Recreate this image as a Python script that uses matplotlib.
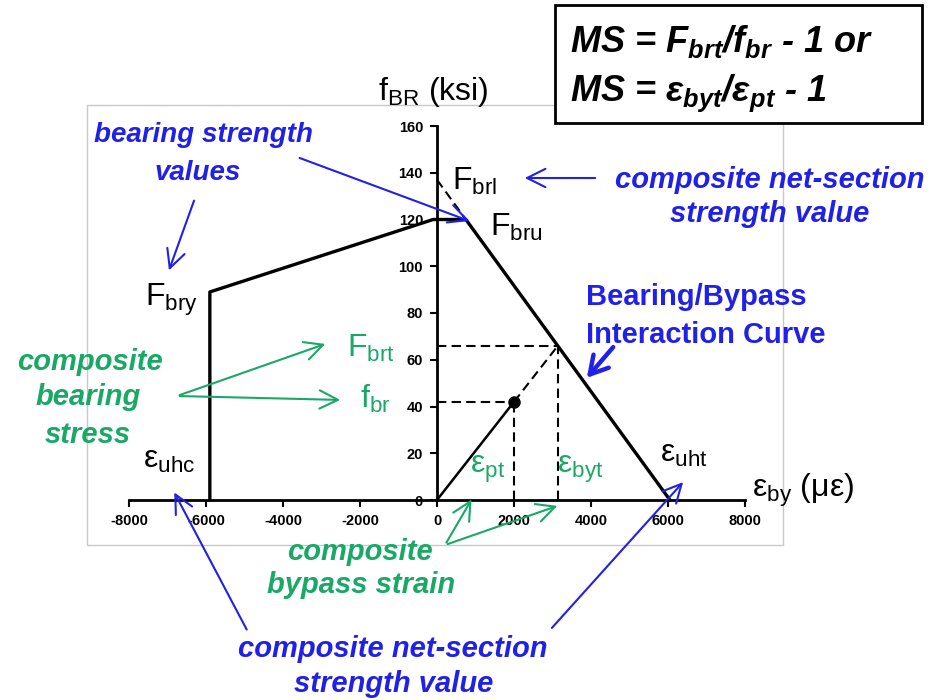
import matplotlib
matplotlib.use("Agg")
import matplotlib.pyplot as plt
from matplotlib.patches import Rectangle, FancyArrowPatch

plt.rcParams['font.family'] = ['Liberation Sans', 'DejaVu Sans']
plt.rcParams['mathtext.fontset'] = 'custom'
plt.rcParams['mathtext.rm'] = 'Liberation Sans'
plt.rcParams['mathtext.it'] = 'Liberation Sans:italic:bold'
plt.rcParams['mathtext.bf'] = 'Liberation Sans:bold'
plt.rcParams['axes.unicode_minus'] = False

# bearing/bypass interaction curve (strain in microstrain, stress in ksi)
curve_x = [-5900, -5900, -100, 750, 6050]
curve_y = [0, 89, 120, 120, 0]
# net-section cutoff extension (F_brl)
brl_x = [0, 750]
brl_y = [137, 120]
# applied load path
load_x = [0, 2000]
load_y = [0, 42]
eps_pt, f_br = 2000, 42
eps_byt, F_brt = 3140, 66

xticks = [-8000, -6000, -4000, -2000, 0, 2000, 4000, 6000, 8000]
xticklabels = ['-8000', '-6000', '-4000', '-2000', '0', '2000', '4000', '6000', '8000']
yticks = [0, 20, 40, 60, 80, 100, 120, 140, 160]

W, H = 935, 700
BLUE = '#2020e6'
GREEN = '#1aa866'


def P(x, y):
    return (x / W, 1 - y / H)


fig = plt.figure(figsize=(9.35, 7), dpi=100)

# light frame of the chart area
fig.add_artist(Rectangle(P(87, 545), (783 - 87) / W, (545 - 105) / H,
                         transform=fig.transFigure, fc='white', ec='#c8c8c8',
                         lw=1, zorder=-1))

ax = fig.add_axes([129 / W, 1 - 500 / H, 616 / W, 374 / H])
ax.set_facecolor('none')
ax.set_xlim(-8000, 8000)
ax.set_ylim(0, 160)
ax.spines['left'].set_position(('data', 0))
ax.spines['bottom'].set_position(('data', 0))
ax.spines['top'].set_visible(False)
ax.spines['right'].set_visible(False)
for s in ['left', 'bottom']:
    ax.spines[s].set_linewidth(2)
ax.set_xticks(xticks)
ax.set_xticklabels(xticklabels)
ax.set_yticks(yticks)
ax.set_yticklabels([str(v) for v in yticks])
ax.tick_params(direction='out', length=5, width=1.5, labelsize=10.5, pad=5)
for lab in ax.get_xticklabels() + ax.get_yticklabels():
    lab.set_fontweight('bold')

dash = (0, (4.5, 2.5))
ax.plot(curve_x, curve_y, color='black', lw=2.4, clip_on=False, zorder=3)
ax.plot(brl_x, brl_y, color='black', lw=1.5, ls=dash, clip_on=False)
ax.plot(load_x, load_y, color='black', lw=1.8, zorder=3)
ax.plot([eps_pt, eps_byt], [f_br, F_brt], color='black', lw=1.5, ls=dash)
ax.plot([0, eps_pt], [f_br, f_br], color='black', lw=1.5, ls=dash)
ax.plot([0, eps_byt], [F_brt, F_brt], color='black', lw=1.5, ls=dash)
ax.plot([eps_pt, eps_pt], [0, f_br], color='black', lw=1.5, ls=dash)
ax.plot([eps_byt, eps_byt], [0, F_brt], color='black', lw=1.5, ls=dash)
ax.plot([eps_pt], [f_br], 'o', color='black', ms=8, zorder=4)


def txt(x, y, s, ha='left', color='black', size=20, **kw):
    fig.text(*P(x, y), s, ha=ha, va='baseline', color=color, fontsize=size,
             zorder=6, **kw)


def arrow(x0, y0, x1, y1, color, lw=1.5, head=(0.6, 0.3), ms=22):
    fig.add_artist(FancyArrowPatch(P(x0, y0), P(x1, y1), transform=fig.transFigure,
                                   arrowstyle='->,head_length=%g,head_width=%g' % head,
                                   mutation_scale=ms, color=color, lw=lw, zorder=6))


# black labels
txt(378, 100, r'f$_{\mathrm{BR}}$ (ksi)', size=23)
txt(452, 190, r'F$_{\mathrm{brl}}$', size=23)
txt(490, 236, r'F$_{\mathrm{bru}}$', size=23)
txt(145, 306, r'F$_{\mathrm{bry}}$', size=23)
txt(143, 468, r'ε$_{\mathrm{uhc}}$', size=23)
txt(660, 462, r'ε$_{\mathrm{uht}}$', size=23)
txt(752, 497, r'ε$_{\mathrm{by}}$ (με)', size=23)

# green labels
txt(347, 357, r'F$_{\mathrm{brt}}$', color=GREEN, size=23)
txt(360, 408, r'f$_{\mathrm{br}}$', color=GREEN, size=23)
txt(470, 473, r'ε$_{\mathrm{pt}}$', color=GREEN, size=23)
txt(557, 473, r'ε$_{\mathrm{byt}}$', color=GREEN, size=23)

bi = dict(fontweight='bold', fontstyle='italic')
txt(203, 142, 'bearing strength', ha='center', color=BLUE, size=20, **bi)
txt(198, 180, 'values', ha='center', color=BLUE, size=20, **bi)
txt(770, 188, 'composite net-section', ha='center', color=BLUE, size=21, **bi)
txt(770, 222, 'strength value', ha='center', color=BLUE, size=21, **bi)
txt(696, 305, 'Bearing/Bypass', ha='center', color=BLUE, size=21, fontweight='bold')
txt(706, 343, 'Interaction Curve', ha='center', color=BLUE, size=21, fontweight='bold')
txt(90, 370, 'composite', ha='center', color=GREEN, size=21, **bi)
txt(88, 405, 'bearing', ha='center', color=GREEN, size=21, **bi)
txt(88, 443, 'stress', ha='center', color=GREEN, size=21, **bi)
txt(360, 560, 'composite', ha='center', color=GREEN, size=21, **bi)
txt(361, 593, 'bypass strain', ha='center', color=GREEN, size=21, **bi)
txt(393, 657, 'composite net-section', ha='center', color=BLUE, size=21, **bi)
txt(394, 692, 'strength value', ha='center', color=BLUE, size=21, **bi)

# arrows
arrow(297, 157, 472, 222, BLUE)
arrow(195, 198, 168, 273, BLUE)
arrow(598, 178, 522, 178, BLUE)
arrow(248, 632, 173, 490, BLUE)
arrow(550, 630, 685, 480, BLUE)
arrow(615, 345, 585, 380, BLUE, lw=3.2, head=(0.7, 0.4), ms=18)
arrow(177, 396, 328, 343, GREEN)
arrow(177, 396, 343, 400, GREEN)
arrow(445, 545, 473, 497, GREEN)
arrow(445, 545, 560, 505, GREEN)

# margin of safety box
fig.add_artist(Rectangle(P(555, 123), (922 - 555) / W, (123 - 5) / H,
                         transform=fig.transFigure, fc='white', ec='black',
                         lw=2, zorder=5))
txt(570, 52, r'MS = F$_{brt}$/f$_{br}$ - 1 or', size=26, **bi)
txt(570, 101, r'MS = ε$_{byt}$/ε$_{pt}$ - 1', size=26, **bi)

fig.savefig('out.png', dpi=100)
